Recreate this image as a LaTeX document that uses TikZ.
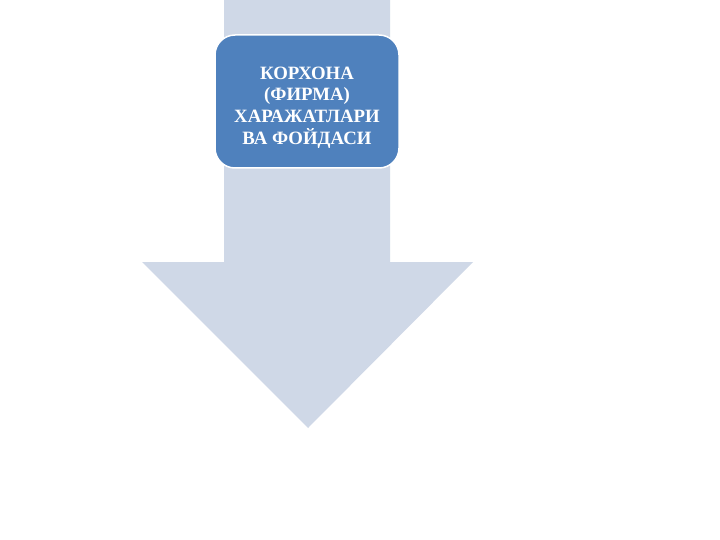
\documentclass[tikz,border=0pt]{standalone}
\usepackage{fontspec}
\setmainfont{Liberation Serif}
\definecolor{arrowfill}{HTML}{CFD8E7}
\definecolor{boxfill}{HTML}{4F81BD}
\tikzset{
  bigarrow/.style={fill=arrowfill, draw=none},
  titlebox/.style={rectangle, rounded corners=20pt, fill=boxfill, draw=white, line width=1.5pt,
    minimum width=184pt, minimum height=133pt, inner sep=0pt},
  titletext/.style={align=center, text=white, inner sep=0pt,
    font=\bfseries\fontsize{18.8}{21.8}\selectfont}
}
\begin{document}
\begin{tikzpicture}[x=1pt,y=-1pt]
\useasboundingbox (0,0) rectangle (720,540);
\fill[white] (0,0) rectangle (720,540);
\path[bigarrow] (224,0) -- (390,0) -- (390,262) -- (473,262) -- (308,428) -- (142,262) -- (224,262) -- cycle;
\node[titlebox] (box) at (307,101.5) {};
\node[titletext] (boxtext) at ([yshift=-6pt]box.center) {КОРХОНА\\(ФИРМА)\\ХАРАЖАТЛАРИ\\ВА ФОЙДАСИ};
\end{tikzpicture}
\end{document}
